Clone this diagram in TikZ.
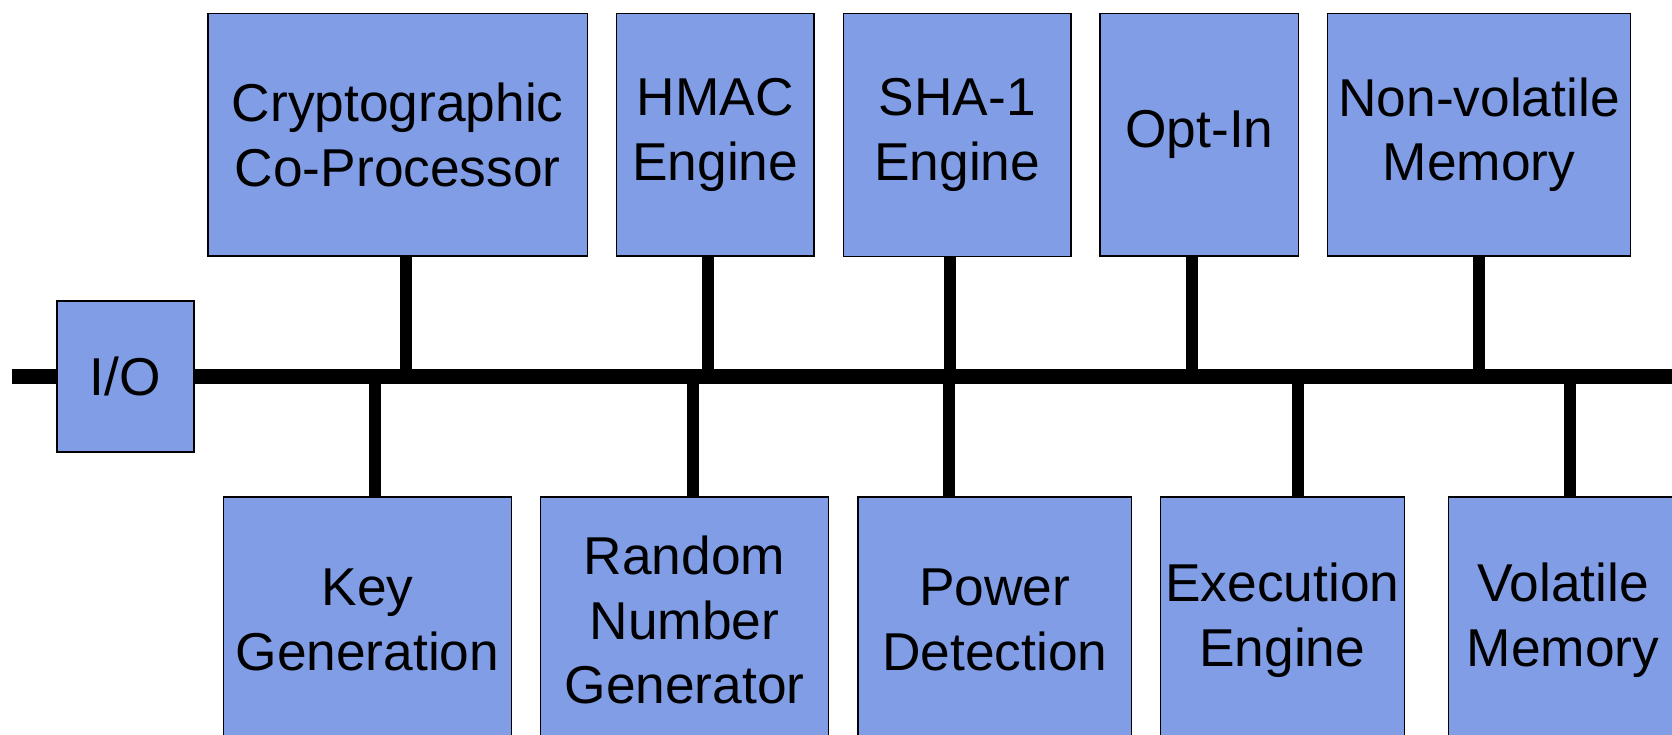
\documentclass[tikz,border=0pt]{standalone}
\usepackage{fontspec}
\setmainfont{Liberation Sans}
\usetikzlibrary{backgrounds}
\definecolor{blockfill}{RGB}{128,157,230}
\tikzset{
  block/.style={draw=black, line width=1.2bp, fill=blockfill, inner sep=0pt,
    align=center, font=\fontsize{53.5}{65}\selectfont},
  bus/.style={line width=15bp, draw=black},
  link/.style={line width=12bp, draw=black},
}
\begin{document}
\begin{tikzpicture}[x=1bp, y=-1bp]
  \useasboundingbox (0,0) rectangle (1672,735);
  \clip (0,0) rectangle (1672,735);

  % bus taps
  \coordinate (busL) at (11.5,376.5);
  \coordinate (busR) at (1680,376.5);
  \coordinate (t1) at (405.5,376.5);
  \coordinate (t2) at (708,376.5);
  \coordinate (t3) at (950,376.5);
  \coordinate (t4) at (1192,376.5);
  \coordinate (t5) at (1479,376.5);
  \coordinate (b1) at (374.8,376.5);
  \coordinate (b2) at (692.6,376.5);
  \coordinate (b3) at (949,376.5);
  \coordinate (b4) at (1297.5,376.5);
  \coordinate (b5) at (1570,376.5);

  % blocks
  \node[block, minimum width=137bp, minimum height=151bp] (io) at (125.5,376.5) {I/O};

  \node[block, minimum width=379.5bp, minimum height=242.7bp] (crypto) at (397.75,134.65) {Cryptographic\\Co-Processor};
  \node[block, minimum width=197.4bp, minimum height=242.7bp] (hmac) at (715.3,134.65) {HMAC\\Engine};
  \node[block, minimum width=227.5bp, minimum height=243.4bp] (sha) at (957.25,135) {SHA-1\\Engine};
  \node[block, minimum width=198.8bp, minimum height=242.7bp] (optin) at (1199.4,134.65) {Opt-In};
  \node[block, minimum width=303.5bp, minimum height=242.7bp] (nvm) at (1479,134.65) {Non-volatile\\Memory};

  \node[block, minimum width=288.4bp, minimum height=246bp] (keygen) at (367.4,620) {Key\\Generation};
  \node[block, minimum width=288bp, minimum height=246bp] (rng) at (684.6,620) {Random\\Number\\Generator};
  \node[block, minimum width=273.5bp, minimum height=246bp] (power) at (994.75,620) {Power\\Detection};
  \node[block, minimum width=243.7bp, minimum height=246bp] (exec) at (1282.25,620) {Execution\\Engine};
  \node[block, minimum width=228.6bp, minimum height=246bp] (vmem) at (1563,620) {Volatile\\Memory};

  % bus and connectors behind the blocks
  \begin{scope}[on background layer]
    \draw[bus] (busL) -- (busR);
    \draw[link] (t1 |- crypto.south) -- (t1);
    \draw[link] (t2 |- hmac.south) -- (t2);
    \draw[link] (t3 |- sha.south) -- (t3);
    \draw[link] (t4 |- optin.south) -- (t4);
    \draw[link] (t5 |- nvm.south) -- (t5);
    \draw[link] (b1) -- (b1 |- keygen.north);
    \draw[link] (b2) -- (b2 |- rng.north);
    \draw[link] (b3) -- (b3 |- power.north);
    \draw[link] (b4) -- (b4 |- exec.north);
    \draw[link] (b5) -- (b5 |- vmem.north);
  \end{scope}
\end{tikzpicture}
\end{document}
